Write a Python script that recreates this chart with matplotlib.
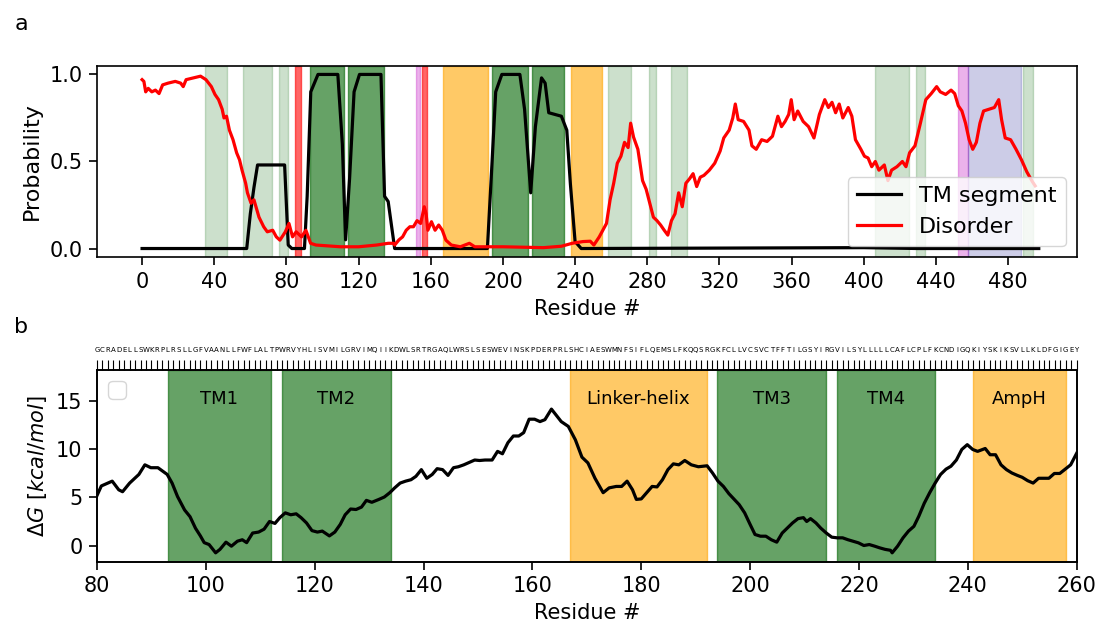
import matplotlib
matplotlib.use("Agg")
import matplotlib.pyplot as plt
import numpy as np

# ---- panel a: TM segment / disorder probability ----
tm_res = [0, 58, 60, 62, 64, 79, 81, 83, 90, 91.5, 93.5, 97.5, 108.5, 111, 112.8, 115, 117.5, 120.5,
          132.4, 134.4, 136.4, 140, 191.4, 194, 196, 199.4, 209.4, 212, 215.4, 218, 221.4, 223.4,
          225.4, 232.4, 235.4, 237.4, 240, 243.4, 400, 430, 497]
tm_prob = [0.0, 0.0, 0.2, 0.35, 0.48, 0.48, 0.02, 0.0, 0.0, 0.3, 0.9, 1.0, 1.0, 0.6, 0.05, 0.4, 0.9, 1.0,
           1.0, 0.3, 0.27, 0.0, 0.0, 0.5, 0.9, 1.0, 1.0, 0.8, 0.32, 0.7, 0.98, 0.95,
           0.78, 0.76, 0.68, 0.37, 0.04, 0.0, 0.005, 0.0, 0.0]

dis_res = [0, 1, 2, 3.4, 5.4, 7.4, 9.4, 11.4, 14.4, 18.4, 21.4, 22.8, 24.4, 28.4, 32.4, 35.4, 38.4,
           40.4, 42.4, 44.4, 45.4, 46.8, 48.4, 50.4, 52.4, 54, 55.4, 57.4, 58.4, 60.4, 62, 63.4,
           64.8, 67.4, 69.4, 72.4, 74.4, 76.4, 79.4, 81.4, 83.4, 85.4, 88.4, 90.8, 93.4, 96.4,
           110, 120, 130, 136.4, 139.4, 140, 142.4, 144.4, 146.4, 148.4, 150.4, 152.4, 154.4,
           156.4, 157.4, 158.4, 160.4, 162.4, 164.4, 166.4, 168.4, 171.4, 176.4, 181.4, 184.4,
           200, 222.4, 232.4, 238.4, 244.4, 248.4, 250.4, 253.4, 257.4, 259.4, 261.4, 263.4,
           265.4, 267.4, 269.4, 270.8, 272.4, 274.8, 277.4, 279.4, 281.4, 283.4, 285.4, 287.4,
           289.4, 291.4, 293.4, 295.4, 297.4, 299.4, 301.4, 303.4, 305.4, 307.4, 309.4, 311.4,
           314.4, 317.4, 320.4, 322.4, 325.4, 327.4, 328.8, 330.4, 333.4, 336.4, 338, 340.4,
           343.4, 346.4, 349.4, 352.4, 354.4, 356.4, 358.4, 359.8, 361.4, 363.4, 366.4, 369.4,
           372.4, 375.4, 378.4, 380.4, 382.4, 384.4, 386.4, 388.4, 391.4, 393.4, 395.4, 398.4,
           400.4, 402.4, 404.4, 406.4, 408.4, 411.4, 413.4, 415.4, 418.4, 421.4, 423.4, 425.4,
           428.4, 431.4, 434.4, 437.4, 440.4, 442.4, 445.4, 448.4, 450.4, 452.4, 454.4, 456.4,
           458.4, 460.4, 462.4, 464.4, 466.4, 469.4, 472.4, 474.8, 476.4, 478.4, 481.4, 484.4,
           487.4, 490.4, 493.4, 495]
dis_prob = [0.97, 0.96, 0.90, 0.92, 0.90, 0.91, 0.89, 0.94, 0.95, 0.96, 0.95, 0.93, 0.97, 0.98, 0.99,
            0.97, 0.93, 0.885, 0.855, 0.80, 0.75, 0.76, 0.68, 0.625, 0.55, 0.51, 0.45, 0.375, 0.32,
            0.26, 0.28, 0.23, 0.18, 0.125, 0.096, 0.105, 0.067, 0.048, 0.096, 0.144, 0.067, 0.096,
            0.067, 0.105, 0.03, 0.02, 0.01, 0.01, 0.02, 0.03, 0.03, 0.02, 0.05, 0.067, 0.105, 0.125,
            0.125, 0.16, 0.144, 0.24, 0.2, 0.105, 0.154, 0.105, 0.135, 0.105, 0.048, 0.02, 0.01,
            0.03, 0.01, 0.01, 0.005, 0.013, 0.03, 0.04, 0.042, 0.02, 0.067, 0.144, 0.28, 0.375,
            0.49, 0.53, 0.61, 0.58, 0.72, 0.64, 0.57, 0.39, 0.34, 0.26, 0.18, 0.16, 0.135, 0.105,
            0.077, 0.16, 0.2, 0.32, 0.24, 0.375, 0.40, 0.43, 0.356, 0.41, 0.42, 0.45, 0.49, 0.56,
            0.635, 0.68, 0.75, 0.83, 0.74, 0.73, 0.68, 0.59, 0.57, 0.625, 0.615, 0.645, 0.76, 0.70,
            0.73, 0.77, 0.855, 0.74, 0.79, 0.73, 0.70, 0.635, 0.77, 0.855, 0.81, 0.84, 0.78, 0.83,
            0.75, 0.81, 0.76, 0.625, 0.57, 0.53, 0.52, 0.47, 0.50, 0.45, 0.48, 0.39, 0.45, 0.47,
            0.50, 0.47, 0.55, 0.59, 0.72, 0.855, 0.89, 0.93, 0.90, 0.885, 0.91, 0.89, 0.82, 0.79,
            0.72, 0.625, 0.57, 0.61, 0.72, 0.79, 0.80, 0.81, 0.855, 0.74, 0.635, 0.625, 0.57, 0.51,
            0.44, 0.385, 0.36]

# shaded regions in panel a
light_green = [(35, 47), (56, 72), (76, 81), (258, 271), (281, 285), (293, 302),
               (406, 425), (429, 434), (488, 494)]
dark_green_a = [(93, 112), (114, 134), (194, 214), (216, 234)]
orange_a = [(167, 192), (238, 255)]
red_a = [(85, 88), (155, 158)]
magenta_a = [(152, 154), (452, 458)]
blue_a = [(458, 487)]

# ---- panel b: dG along the sequence ----
seq = ("GCRADELLSWKRPLRSLLGFVAANLLFWFLALTPWRVYHLISVMILGRVIMQIIKDWLSRTRGAQLWRSL"
       "SESWEVINSKPDERPRLSHCIAESWMNFSIFLQEMSLFKQQSRGKFCLLVCSVCTFFTILGSYIRGVILS"
       "YLLLLLCAFLCPLFKCNDIGQKIYSKIKSVLLKLDFGIGEY")
dg_res = [80, 80.8, 82.8, 84, 84.7, 86, 87.7, 88.8, 89.9, 91.2, 92.9, 93.8, 94.8, 96.1, 97.1, 98.1,
          99, 99.7, 100.6, 101.8, 102.6, 103.7, 104.7, 105.8, 106.7, 107.5, 108.6, 109.7, 110.7,
          111.7, 112.7, 113.6, 114.6, 115.6, 116.6, 117.5, 118.5, 119.5, 120.5, 121.4, 122.7,
          123.7, 124.7, 125.6, 126.6, 127.6, 128.6, 129.5, 130.5, 131.8, 132.8, 133.8, 134.7,
          135.7, 136.7, 137.7, 138.6, 139.6, 140.6, 141.6, 142.5, 143.5, 144.5, 145.5, 146.4,
          147.4, 148.4, 149.4, 150.3, 151.3, 152.6, 153.6, 154.5, 155.5, 156.5, 157.5, 158.4,
          159.4, 160.4, 161.4, 162.3, 163.5, 164.6, 165.3, 166.6, 167.9, 169.1, 170.2, 171.5,
          173, 174.1, 175.4, 176.4, 177.4, 178.4, 179.1, 180, 181, 182, 182.9, 183.9, 184.9,
          185.9, 186.9, 188, 189.2, 190.5, 192.1, 193.1, 194.1, 195.1, 196.1, 197, 198, 199,
          200, 200.9, 201.9, 202.9, 203.9, 204.9, 205.9, 206.8, 207.8, 208.8, 209.8, 210.4,
          211.1, 212.1, 213, 214, 215, 216, 217, 218, 218.9, 219.9, 220.9, 221.9, 222.9, 223.8,
          224.8, 225.8, 226.1, 227.1, 228.1, 229.1, 230.1, 231, 232, 233, 234, 235, 236, 236.9,
          237.9, 238.9, 239.9, 240.9, 241.8, 243.2, 244.1, 245.1, 246.1, 247.1, 248.1, 249.1,
          250, 251, 252, 253, 254, 254.9, 255.9, 256.9, 257.9, 258.9, 260]
dg_val = [5.2, 6.2, 6.7, 5.8, 5.6, 6.5, 7.4, 8.4, 8.1, 8.1, 7.4, 6.5, 5.1, 3.7, 3.0, 1.8,
          1.0, 0.3, 0.1, -0.76, -0.4, 0.35, -0.07, 0.45, 0.6, 0.3, 1.3, 1.4, 1.7,
          2.5, 2.3, 2.9, 3.4, 3.2, 3.3, 2.9, 2.35, 1.55, 1.4, 1.5, 1.0,
          1.4, 2.2, 3.2, 3.8, 3.75, 4.0, 4.7, 4.5, 4.8, 5.05, 5.5, 6.0,
          6.5, 6.7, 6.85, 7.2, 7.9, 7.0, 7.4, 8.0, 7.9, 7.3, 8.1, 8.2,
          8.4, 8.65, 8.9, 8.85, 8.9, 8.9, 9.8, 9.55, 10.7, 11.4, 11.4, 11.75,
          13.15, 13.15, 12.9, 13.1, 14.2, 13.4, 12.9, 12.4, 11.0, 9.2, 8.6, 7.0,
          5.5, 6.0, 6.15, 6.15, 6.7, 5.8, 4.8, 4.85, 5.5, 6.15, 6.1, 6.85, 7.9,
          8.5, 8.4, 8.85, 8.4, 8.2, 8.3, 7.55, 6.7, 6.15, 5.4, 4.85, 4.25, 3.4,
          2.2, 1.15, 0.97, 0.97, 0.6, 0.35, 1.3, 1.8, 2.35, 2.8, 2.9, 2.5,
          2.8, 2.35, 1.8, 1.3, 0.87, 0.8, 0.8, 0.6, 0.45, 0.28, 0.0, 0.1, -0.07, -0.24,
          -0.4, -0.5, -0.76, -0.07, 0.8, 1.5, 2.0, 3.05, 4.4, 5.5, 6.5, 7.4, 7.95, 8.25,
          8.9, 10.0, 10.5, 10.0, 9.8, 10.1, 9.45, 9.45, 8.4, 7.9, 7.55, 7.3,
          7.1, 6.75, 6.5, 7.0, 7.0, 7.0, 7.5, 7.5, 7.95, 8.4, 9.6]

tm_regions = [(93, 112, 'TM1'), (114, 134, 'TM2'), (194, 214, 'TM3'), (216, 234, 'TM4')]
helix_regions = [(167, 192, 'Linker-helix'), (241, 258, 'AmpH')]

# original was drawn small and scaled up, so ticks/lines are ~1.5x default
plt.rcParams['axes.linewidth'] = 1.2
plt.rcParams['xtick.major.size'] = 5.5
plt.rcParams['ytick.major.size'] = 5.5
plt.rcParams['xtick.major.width'] = 1.2
plt.rcParams['ytick.major.width'] = 1.2
plt.rcParams['xtick.major.pad'] = 5
plt.rcParams['ytick.major.pad'] = 5
plt.rcParams['axes.labelpad'] = 5

fig = plt.figure(figsize=(11.02, 6.32), dpi=100)
axa = fig.add_axes([0.088, 0.593, 0.889, 0.303])
axb = fig.add_axes([0.088, 0.111, 0.889, 0.304])

for s, e in light_green:
    axa.axvspan(s, e, color='darkgreen', alpha=0.2)
for s, e in dark_green_a:
    axa.axvspan(s, e, color='darkgreen', alpha=0.6)
for s, e in orange_a:
    axa.axvspan(s, e, color='orange', alpha=0.6)
for s, e in red_a:
    axa.axvspan(s, e, color='red', alpha=0.6)
for s, e in magenta_a:
    axa.axvspan(s, e, color='m', alpha=0.3)
for s, e in blue_a:
    axa.axvspan(s, e, color='darkblue', alpha=0.2)

axa.plot(tm_res, tm_prob, color='black', lw=2.3, label='TM segment')
axa.plot(dis_res, dis_prob, color='red', lw=2.3, label='Disorder')
axa.set_xlim(-25, 518)
axa.set_ylim(-0.05, 1.05)
axa.set_xticks(np.arange(0, 481, 40))
axa.set_yticks([0.0, 0.5, 1.0])
axa.tick_params(labelsize=15)
axa.set_xlabel('Residue #', fontsize=15)
axa.set_ylabel('Probability', fontsize=16)
axa.legend(loc='lower right', fontsize=16)

for s, e, name in tm_regions:
    axb.axvspan(s, e, color='darkgreen', alpha=0.6)
    axb.text((s + e) / 2, 15.2, name, ha='center', va='center', fontsize=13)
for s, e, name in helix_regions:
    axb.axvspan(s, e, color='orange', alpha=0.6)
    axb.text((s + e) / 2, 15.2, name, ha='center', va='center', fontsize=13)

axb.plot(dg_res, dg_val, color='black', lw=2.3)
axb.set_xlim(80, 260)
axb.set_ylim(-1.7, 18.3)
axb.set_yticks([0, 5, 10, 15])
axb.tick_params(labelsize=15)
axb.set_xlabel('Residue #', fontsize=15)
axb.set_ylabel(r'$\Delta G\ [kcal/mol]$', fontsize=15)
axb.legend(handles=[], loc='upper left', fontsize=16)

top = axb.twiny()
top.set_xlim(80, 260)
top.set_xticks(np.arange(80, 261))
top.set_xticklabels(list(seq), fontsize=5)
top.tick_params(axis='x', length=7, width=0.8, pad=5)

fig.text(0.013, 0.953, 'a', fontsize=16)
fig.text(0.013, 0.473, 'b', fontsize=16)

fig.savefig('out.png', dpi=100)
